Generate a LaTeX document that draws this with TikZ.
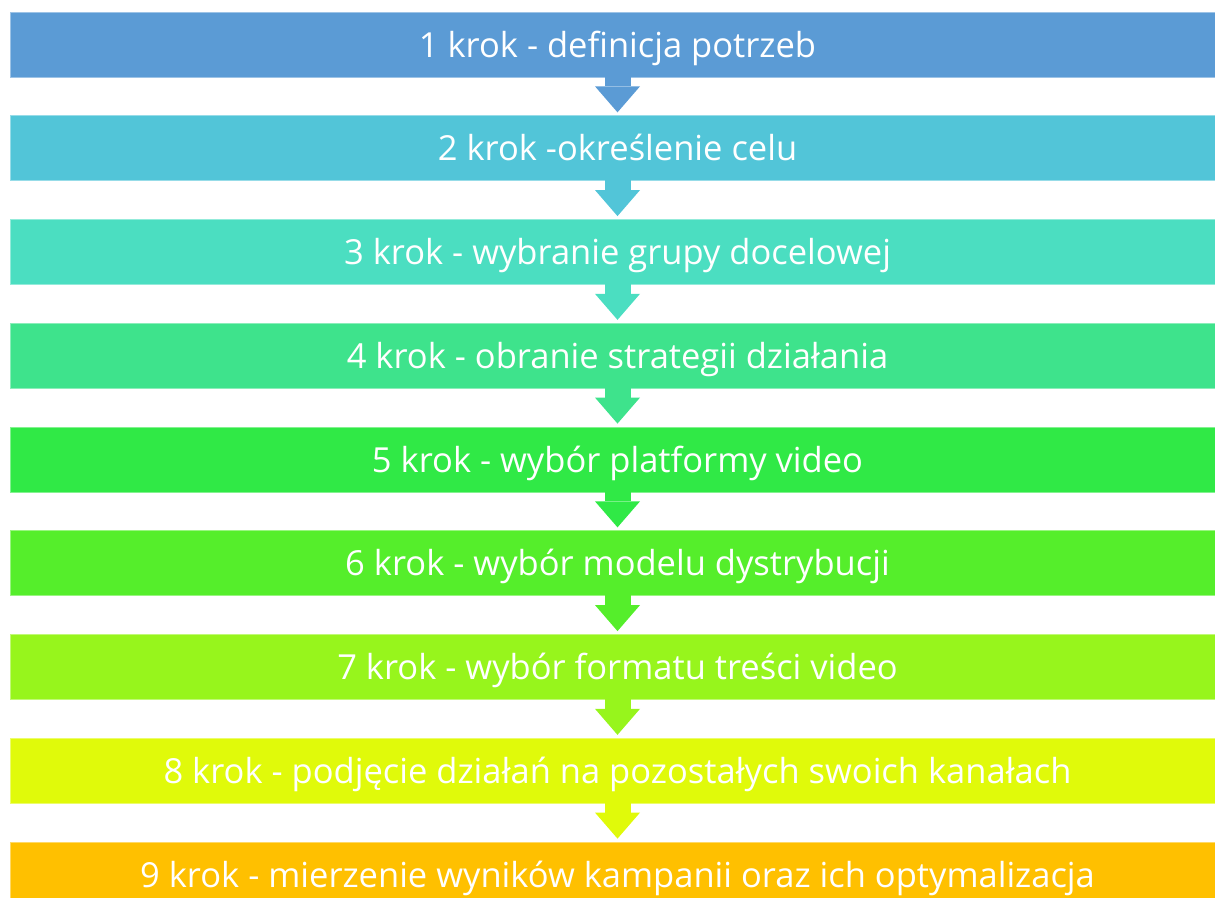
\documentclass[tikz,border=0pt]{standalone}
\usepackage{fontspec}
\setmainfont{Open Sans}
\usetikzlibrary{arrows.meta,calc}

% step colours, top to bottom
\definecolor{c1}{HTML}{5B9BD5}
\definecolor{c2}{HTML}{52C5D8}
\definecolor{c3}{HTML}{4BDEC1}
\definecolor{c4}{HTML}{3EE38C}
\definecolor{c5}{HTML}{30E946}
\definecolor{c6}{HTML}{55EE2B}
\definecolor{c7}{HTML}{97F51C}
\definecolor{c8}{HTML}{E0FA0A}
\definecolor{c9}{HTML}{FFC000}

\tikzset{
  stepbar/.style={fill=#1, draw=#1!60!white, line width=0.8pt,
    minimum width=1215pt, minimum height=65pt, inner sep=0pt,
    text height=30pt, text depth=5pt,
    text=white, font=\fontsize{34.5}{40}\selectfont},
  stepflow/.style={#1, line width=26pt,
    -{Triangle[width=45pt,length=26pt,line width=0pt]}, shorten >=3pt},
}

\begin{document}
\begin{tikzpicture}[x=1pt,y=-1pt]
  \useasboundingbox (0,0) rectangle (1215,897);
  \begin{scope}
    \clip (0,0) rectangle (1215,897);
    \foreach \i/\t in {
      1/{1 krok - definicja potrzeb},
      2/{2 krok -określenie celu},
      3/{3 krok - wybranie grupy docelowej},
      4/{4 krok - obranie strategii działania},
      5/{5 krok - wybór platformy video},
      6/{6 krok - wybór modelu dystrybucji},
      7/{7 krok - wybór formatu treści video},
      8/{8 krok - podjęcie działań na pozostałych swoich kanałach},
      9/{9 krok - mierzenie wyników kampanii oraz ich optymalizacja}}
      \node[stepbar=c\i] (b\i) at (617.5, {44.5+(\i-1)*103.75}) {\t};

    % downward arrows between consecutive steps
    \foreach \i [evaluate=\i as \j using int(\i+1)] in {1,...,8}
      \draw[stepflow=c\i] ($(b\i.south)+(0,-1)$) -- (b\j.north);
  \end{scope}
\end{tikzpicture}
\end{document}
